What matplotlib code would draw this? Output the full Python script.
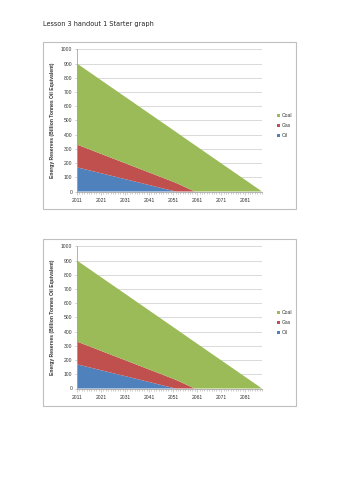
import matplotlib
matplotlib.use("Agg")
import matplotlib.pyplot as plt
from matplotlib.patches import Rectangle, Patch
from matplotlib.ticker import MultipleLocator, FixedLocator

# ---- data ----
years = [2011, 2052, 2060, 2088]
oil = [170, 0, 0, 0]
gas = [160, 62, 0, 0]
coal = [570, 359, 327, 0]
series_names = ["Oil", "Gas", "Coal"]
series_colors = ["#4F81BD", "#C0504D", "#9BBB59"]
xtick_labels = [2011, 2021, 2031, 2041, 2051, 2061, 2071, 2081]
ytick_values = list(range(0, 1001, 100))

title = "Lesson 3 handout 1 Starter graph"
ylabel = "Energy Reserves (Billion Tonnes Oil Equivalent)"

W, H = 353, 500
fig = plt.figure(figsize=(W / 100, H / 100), dpi=100)
fig.patch.set_facecolor("white")

def fx(px):
    return px / W

def fy(py):
    return 1 - py / H

fig.text(fx(43), fy(24), title, fontsize=4.7, family="DejaVu Sans",
         ha="left", va="center", color="#222222")

chart_font = "Liberation Sans"

def draw_chart(offset):
    # outer chart frame
    top, bot = 42 + offset, 209 + offset
    fig.patches.append(Rectangle((fx(43), fy(bot)), fx(296) - fx(43), fy(top) - fy(bot),
                                 transform=fig.transFigure, fill=False,
                                 edgecolor="#BFBFBF", lw=0.8))
    ax_top, ax_bot = 49.3 + offset, 191.5 + offset
    ax = fig.add_axes([fx(77), fy(ax_bot), fx(262) - fx(77), fy(ax_top) - fy(ax_bot)])
    ax.stackplot(years, oil, gas, coal, colors=series_colors, labels=series_names,
                 linewidth=0, zorder=2)
    ax.set_xlim(2011, 2088)
    ax.set_ylim(0, 1000)
    ax.set_yticks(ytick_values)
    ax.set_yticklabels([str(v) for v in ytick_values])
    ax.grid(axis="y", color="#D9D9D9", lw=0.7, zorder=0)
    ax.set_axisbelow(True)
    ax.xaxis.set_major_locator(FixedLocator(xtick_labels))
    ax.set_xticklabels([str(v) for v in xtick_labels])
    ax.xaxis.set_minor_locator(MultipleLocator(1))
    for s in ["top", "right"]:
        ax.spines[s].set_visible(False)
    for s in ["left", "bottom"]:
        ax.spines[s].set_color("#A6A6A6")
        ax.spines[s].set_linewidth(0.6)
    ax.tick_params(axis="both", which="both", colors="#A6A6A6", labelcolor="#333333",
                   labelsize=3.6, width=0.4)
    ax.tick_params(axis="x", which="major", length=2, pad=2.5)
    ax.tick_params(axis="x", which="minor", length=1.2)
    ax.tick_params(axis="y", which="major", length=1.5, pad=2)
    for lab in ax.get_xticklabels() + ax.get_yticklabels():
        lab.set_family(chart_font)
    ax.set_ylabel(ylabel, fontsize=3.6, family=chart_font, fontweight="bold",
                  color="#333333", labelpad=5)
    ax.yaxis.set_label_coords(-(77 - 55) / 185, 0.5)
    handles = [Patch(facecolor=c, edgecolor="none") for c in series_colors][::-1]
    labels = series_names[::-1]
    fig.legend(handles, labels, loc="center left",
               bbox_to_anchor=(fx(274), fy(125.7 + offset)),
               frameon=False, prop={"family": chart_font, "size": 3.6},
               handlelength=0.6, handleheight=0.6, handletextpad=0.4,
               labelspacing=1.0, borderpad=0, labelcolor="#333333")
    return ax

draw_chart(0)
draw_chart(197)

fig.savefig("out.png", dpi=100, facecolor="white")
